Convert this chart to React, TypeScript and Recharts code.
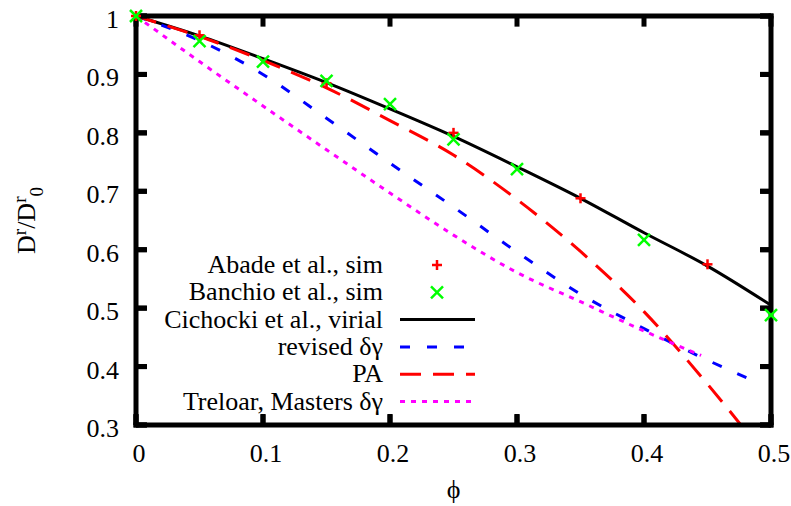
import React from 'react'
import { ComposedChart, Line, Scatter, XAxis, YAxis, Legend, ReferenceLine } from 'recharts'

const FONT = '"Liberation Serif", "Times New Roman", serif'

// volume fractions used by the model curves
const phiGrid = [0, 0.05, 0.1, 0.15, 0.2, 0.25, 0.3, 0.35, 0.4, 0.45, 0.5]
const phiRevised = [0, 0.05, 0.1, 0.15, 0.2, 0.25, 0.3, 0.35, 0.4, 0.45, 0.485]
const phiTreloar = [0, 0.05, 0.1, 0.15, 0.2, 0.25, 0.3, 0.35, 0.4, 0.445]

// simulation data
const phiAbade = [0, 0.05, 0.15, 0.25, 0.35, 0.45]
const dAbade = [1.0, 0.967, 0.885, 0.8, 0.688, 0.575]
const phiBanchio = [0, 0.05, 0.1, 0.15, 0.2, 0.25, 0.3, 0.4, 0.5]
const dBanchio = [1.0, 0.957, 0.922, 0.889, 0.849, 0.789, 0.738, 0.617, 0.488]

// theory curves
const dVirial = [1.0, 0.966, 0.927, 0.886, 0.841, 0.794, 0.742, 0.688, 0.629, 0.572, 0.505]
const dRevised = [1.0, 0.958, 0.9, 0.825, 0.748, 0.673, 0.596, 0.524, 0.465, 0.411, 0.377]
const dPA = [1.0, 0.965, 0.924, 0.877, 0.821, 0.762, 0.686, 0.597, 0.494, 0.37, 0.235]
const dTreloar = [1.0, 0.922, 0.846, 0.771, 0.697, 0.625, 0.561, 0.511, 0.461, 0.419]

const xTicks = [0, 0.1, 0.2, 0.3, 0.4, 0.5]
const yTicks = [0.3, 0.4, 0.5, 0.6, 0.7, 0.8, 0.9, 1]

const X_MIN = 0
const X_MAX = 0.5
const Y_MIN = 0.3
const Y_MAX = 1

const toPoints = (xs: number[], ys: number[]) => xs.map((x, i) => ({ x, y: ys[i] }))

const abade = toPoints(phiAbade, dAbade)
const banchio = toPoints(phiBanchio, dBanchio)
const virial = toPoints(phiGrid, dVirial)
const revised = toPoints(phiRevised, dRevised)
const pa = toPoints(phiGrid, dPA)
const treloar = toPoints(phiTreloar, dTreloar)

const RED = '#ff0000'
const GREEN = '#00ff00'
const BLUE = '#0000ff'
const MAGENTA = '#ff00ff'

const legendItems = [
  { label: 'Abade et al., sim', kind: 'plus', color: RED },
  { label: 'Banchio et al., sim', kind: 'cross', color: GREEN },
  { label: 'Cichocki et al., virial', kind: 'line', color: '#000', dash: '' },
  { label: 'revised δγ', kind: 'line', color: BLUE, dash: '10 17' },
  { label: 'PA', kind: 'line', color: RED, dash: '21 12' },
  { label: 'Treloar, Masters δγ', kind: 'line', color: MAGENTA, dash: '5 6' },
]

const fmt = (v: number) => String(+v.toFixed(1))

// inward ticks: negative tickSize, tickMargin cancels it so labels sit on the axis line
const TICK = -11
const tickLine = { stroke: '#000', strokeWidth: 5 }

// same ticks again as segments, as a fraction of each axis range (about 11px)
const xTickLen = (X_MAX - X_MIN) * 0.017
const yTickLen = (Y_MAX - Y_MIN) * 0.026

const Plus = ({ cx, cy }: any) => (
  <g stroke={RED} strokeWidth={2.5}>
    <line x1={cx - 5} y1={cy} x2={cx + 5} y2={cy} />
    <line x1={cx} y1={cy - 5} x2={cx} y2={cy + 5} />
  </g>
)

const Cross = ({ cx, cy }: any) => (
  <g stroke={GREEN} strokeWidth={2.5}>
    <line x1={cx - 6} y1={cy - 6} x2={cx + 6} y2={cy + 6} />
    <line x1={cx - 6} y1={cy + 6} x2={cx + 6} y2={cy - 6} />
  </g>
)

const BottomTick = ({ x, y, payload }: any) => (
  <text x={x + 3} y={y + 37} textAnchor="middle" fontFamily={FONT} fontSize={26} fill="#000">
    {fmt(payload.value)}
  </text>
)

const LeftTick = ({ x, y, payload }: any) => (
  <text x={x - 17} y={y + 12} textAnchor="end" fontFamily={FONT} fontSize={26} fill="#000">
    {fmt(payload.value)}
  </text>
)

const NoLabel = () => <g />

const KeyBox = () => (
  <svg width={340} height={165} style={{ overflow: 'visible' }}>
    {legendItems.map((item, i) => {
      const y = 15 + i * 27.3
      return (
        <g key={item.label}>
          <text x={233} y={y + 8} textAnchor="end" fontFamily={FONT} fontSize={26} fill="#000">
            {item.label}
          </text>
          {item.kind === 'plus' && <Plus cx={287} cy={y} />}
          {item.kind === 'cross' && <Cross cx={287} cy={y} />}
          {item.kind === 'line' && (
            <line x1={250} y1={y} x2={325} y2={y} stroke={item.color} strokeWidth={3} strokeDasharray={item.dash} />
          )}
        </g>
      )
    })}
  </svg>
)

const YLabel = ({ viewBox }: any) => {
  const cy = viewBox.y + viewBox.height / 2
  const x = 35
  return (
    <text transform={`rotate(-90 ${x} ${cy})`} x={x} y={cy} textAnchor="middle" fontFamily={FONT} fontSize={26} fill="#000">
      D<tspan dy={-9} fontSize={19}>r</tspan>
      <tspan dy={9}>/D</tspan>
      <tspan dy={-9} fontSize={19}>r</tspan>
      <tspan dy={17} fontSize={19}>0</tspan>
    </text>
  )
}

const XLabel = ({ viewBox }: any) => (
  <text x={viewBox.x + viewBox.width / 2} y={viewBox.y + 73} textAnchor="middle" fontFamily={FONT} fontSize={26} fill="#000">
    ϕ
  </text>
)

const frame = { stroke: '#000', strokeWidth: 5, strokeLinecap: 'square' as const }

const tickSegments = [
  ...xTicks.flatMap((v) => [
    [{ x: v, y: Y_MIN }, { x: v, y: Y_MIN + yTickLen }],
    [{ x: v, y: Y_MAX }, { x: v, y: Y_MAX - yTickLen }],
  ]),
  ...yTicks.flatMap((v) => [
    [{ x: X_MIN, y: v }, { x: X_MIN + xTickLen, y: v }],
    [{ x: X_MAX, y: v }, { x: X_MAX - xTickLen, y: v }],
  ]),
]

export default function App() {
  return (
    <div style={{ position: 'absolute', left: 0, top: 0, background: '#fff' }}>
      <ComposedChart width={791} height={506} margin={{ top: 15, right: 19, bottom: 0, left: 0 }}>
        <XAxis
          dataKey="x"
          type="number"
          domain={[X_MIN, X_MAX]}
          ticks={xTicks}
          height={81}
          tickSize={TICK}
          tickMargin={-TICK}
          axisLine={frame}
          tickLine={tickLine}
          tick={BottomTick}
          label={{ content: XLabel }}
        />
        <XAxis
          xAxisId="top"
          orientation="top"
          type="number"
          domain={[X_MIN, X_MAX]}
          ticks={xTicks}
          height={1}
          tickSize={TICK}
          axisLine={frame}
          tickLine={tickLine}
          tick={NoLabel}
        />
        <YAxis
          dataKey="y"
          type="number"
          domain={[Y_MIN, Y_MAX]}
          ticks={yTicks}
          allowDataOverflow
          width={136}
          tickSize={TICK}
          tickMargin={-TICK}
          axisLine={frame}
          tickLine={tickLine}
          tick={LeftTick}
          label={{ content: YLabel }}
        />
        <YAxis
          yAxisId="right"
          orientation="right"
          dataKey="y"
          type="number"
          domain={[Y_MIN, Y_MAX]}
          ticks={yTicks}
          width={1}
          tickSize={TICK}
          axisLine={frame}
          tickLine={tickLine}
          tick={NoLabel}
        />
        {tickSegments.map((seg, i) => (
          <ReferenceLine key={`tick-${i}`} segment={seg} stroke="#000" strokeWidth={5} ifOverflow="visible" />
        ))}
        <Legend
          verticalAlign="middle"
          align="center"
          layout="horizontal"
          wrapperStyle={{ left: 150, top: 250, width: 340, height: 165 }}
          content={() => <KeyBox />}
        />
        <Line data={virial} dataKey="y" type="monotone" stroke="#000" strokeWidth={3} dot={false} isAnimationActive={false} />
        <Line data={revised} dataKey="y" type="monotone" stroke={BLUE} strokeWidth={3} strokeDasharray="10 17" dot={false} isAnimationActive={false} />
        <Line data={pa} dataKey="y" type="monotone" stroke={RED} strokeWidth={3} strokeDasharray="21 12" dot={false} isAnimationActive={false} />
        <Line data={treloar} dataKey="y" type="monotone" stroke={MAGENTA} strokeWidth={3} strokeDasharray="5 6" dot={false} isAnimationActive={false} />
        <Scatter yAxisId="right" data={abade} dataKey="y" shape={Plus} isAnimationActive={false} />
        <Scatter yAxisId="right" data={banchio} dataKey="y" shape={Cross} isAnimationActive={false} />
      </ComposedChart>
    </div>
  )
}
